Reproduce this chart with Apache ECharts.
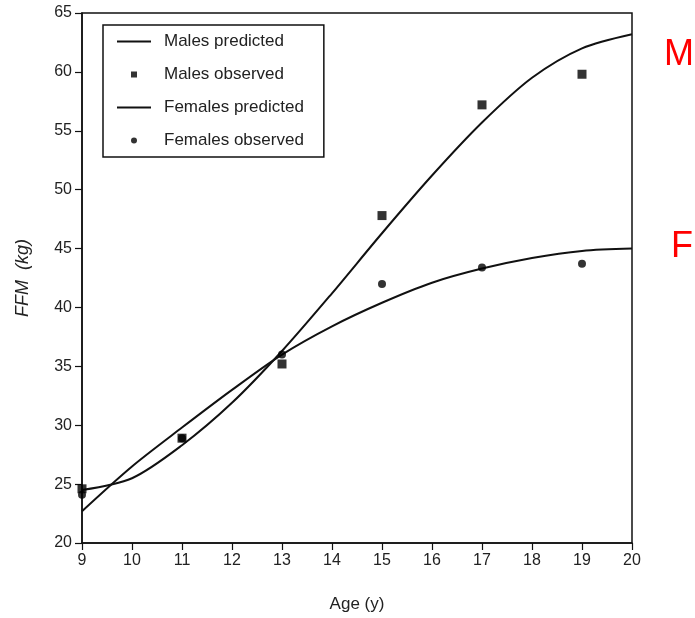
<!DOCTYPE html>
<html>
<head>
<meta charset="utf-8">
<script src="https://cdn.jsdelivr.net/npm/echarts@6/dist/echarts.min.js"></script>
<style>html,body{margin:0;padding:0;background:#fff;}#c{width:695px;height:618px;}</style>
</head>
<body>
<div id="c"></div>
<script>
// Data
var predAges = [9, 10, 11, 12, 13, 14, 15, 16, 17, 18, 19, 20];
var malesPredicted = [24.5, 25.5, 28.3, 31.9, 36.3, 41.2, 46.3, 51.2, 55.7, 59.5, 62.0, 63.2];
var femalesPredicted = [22.7, 26.5, 29.8, 33.0, 36.0, 38.4, 40.4, 42.1, 43.3, 44.2, 44.8, 45.0];
var obsAges = [9, 11, 13, 15, 17, 19];
var malesObserved = [24.6, 28.9, 35.2, 47.8, 57.2, 59.8];
var femalesObserved = [24.1, 28.9, 36.0, 42.0, 43.4, 43.7];
var seriesNames = ['Males predicted', 'Males observed', 'Females predicted', 'Females observed'];

function pairs(xs, ys) { return xs.map(function (x, i) { return [x, ys[i]]; }); }

var FONT = 'Liberation Sans, Arial, Helvetica, sans-serif';
var LINE_ICON = 'path://M0,0L34,0L34,2L0,2Z';
var chart = echarts.init(document.getElementById('c'), null, {renderer: 'canvas'});
chart.setOption({
  animation: false,
  backgroundColor: '#ffffff',
  grid: {left: 82, right: 63, top: 13, bottom: 75, show: true, borderColor: '#111', borderWidth: 1.5, backgroundColor: 'transparent'},
  legend: {
    left: 103, top: 25, orient: 'vertical',
    padding: [8, 20, 8, 14], itemGap: 16,
    itemWidth: 34, itemHeight: 6,
    borderColor: '#111', borderWidth: 1.5,
    textStyle: {fontFamily: FONT, fontSize: 17, color: '#222', padding: [0, 0, 0, 8]},
    data: [
      {name: seriesNames[0], icon: LINE_ICON, itemStyle: {color: '#111'}},
      {name: seriesNames[1], icon: 'path://M0,0L10,0L10,10L0,10Z'},
      {name: seriesNames[2], icon: LINE_ICON, itemStyle: {color: '#111'}},
      {name: seriesNames[3], icon: 'circle'}
    ]
  },
  xAxis: {
    type: 'value', min: 9, max: 20, interval: 1,
    name: 'Age (y)', nameLocation: 'middle', nameGap: 53,
    nameTextStyle: {fontFamily: FONT, fontSize: 17, color: '#222'},
    axisLine: {show: true, lineStyle: {color: '#111', width: 1.5}},
    axisTick: {show: true, length: 7, lineStyle: {color: '#111', width: 1.2}},
    axisLabel: {fontFamily: FONT, fontSize: 16, color: '#222', margin: 10},
    splitLine: {show: false}
  },
  yAxis: {
    type: 'value', min: 20, max: 65, interval: 5,
    name: 'FFM  (kg)', nameLocation: 'middle', nameGap: 50, nameRotate: 90,
    nameTextStyle: {fontFamily: FONT, fontSize: 18, fontStyle: 'italic', color: '#222'},
    axisLine: {show: true, lineStyle: {color: '#111', width: 1.5}},
    axisTick: {show: true, length: 7, lineStyle: {color: '#111', width: 1.2}},
    axisLabel: {fontFamily: FONT, fontSize: 16, color: '#222', margin: 10},
    splitLine: {show: false}
  },
  series: [
    {name: seriesNames[0], type: 'line', data: pairs(predAges, malesPredicted), smooth: 0.3, symbol: 'none',
     lineStyle: {color: '#111', width: 2}, itemStyle: {color: '#111'}, z: 3},
    {name: seriesNames[1], type: 'scatter', data: pairs(obsAges, malesObserved), symbol: 'rect', symbolSize: 9,
     itemStyle: {color: '#000'}, z: 4},
    {name: seriesNames[2], type: 'line', data: pairs(predAges, femalesPredicted), smooth: 0.3, symbol: 'none',
     lineStyle: {color: '#111', width: 2}, itemStyle: {color: '#111'}, z: 3},
    {name: seriesNames[3], type: 'scatter', data: pairs(obsAges, femalesObserved), symbol: 'circle', symbolSize: 8,
     itemStyle: {color: '#000'}, z: 4}
  ],
  graphic: [
    {type: 'text', left: 664, top: 37, style: {text: 'M', fill: '#ff0000', font: '36px ' + FONT}},
    {type: 'text', left: 671, top: 229, style: {text: 'F', fill: '#ff0000', font: '36px ' + FONT}}
  ]
});
</script>
</body>
</html>
